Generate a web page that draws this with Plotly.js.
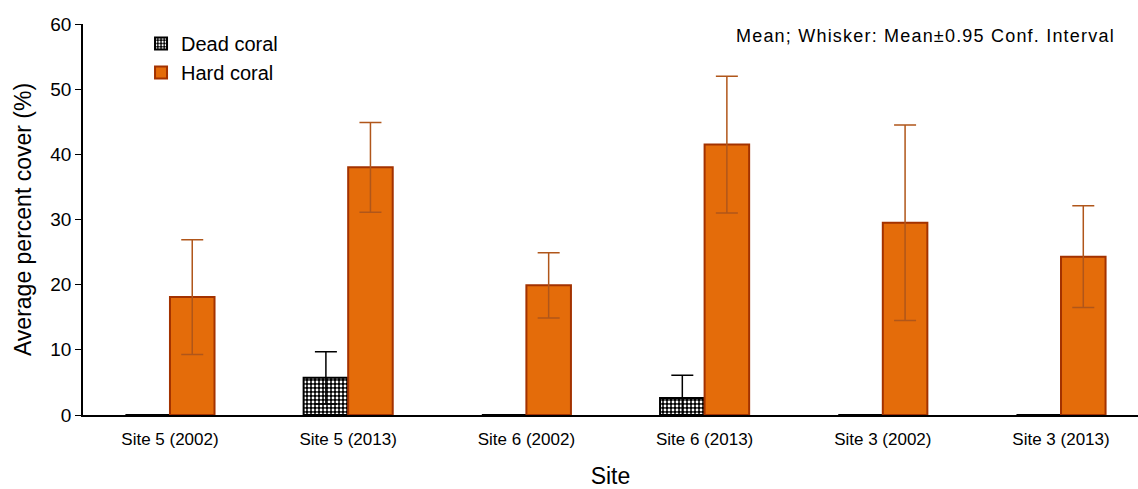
<!DOCTYPE html>
<html><head><meta charset="utf-8">
<script src="https://cdn.plot.ly/plotly-3.0.1.min.js"></script>
<style>
html,body{margin:0;padding:0;background:#fff}#chart{width:1138px;height:489px}
.annotation-text{letter-spacing:1.2px}
</style>
</head><body><div id="chart"></div>
<script>
const sites = ["Site 5 (2002)","Site 5 (2013)","Site 6 (2002)","Site 6 (2013)","Site 3 (2002)","Site 3 (2013)"];
const deadMean = [0, 5.7, 0, 2.6, 0, 0];
const deadCI = [0, 4.0, 0, 3.5, 0, 0];
const hardMean = [18.1, 38.0, 19.9, 41.5, 29.5, 24.3];
const hardCI = [8.8, 6.9, 5.0, 10.5, 15.0, 7.8];
const yTicks = [0,10,20,30,40,50,60];

const font = "Liberation Sans, Arial, sans-serif";
const traces = [
  {type:'bar', name:'Dead coral', x:sites, y:deadMean,
   marker:{color:'#000000', line:{color:'#000000', width:2},
     pattern:{shape:'.', fgcolor:'#ffffff', bgcolor:'#000000', size:4, solidity:0.4}},
   error_y:{type:'data', array:deadCI, visible:true, color:'#000000', thickness:1.5, width:11}},
  {type:'bar', name:'Hard coral', x:sites, y:hardMean,
   marker:{color:'#E46C0A', line:{color:'#A33200', width:2}},
   error_y:{type:'data', array:hardCI, visible:true, color:'#B0561A', thickness:1.5, width:11}}
];
const layout = {
  width:1138, height:489,
  margin:{l:83, r:0, t:24, b:74},
  paper_bgcolor:'#fff', plot_bgcolor:'#fff',
  font:{family:font, color:'#000'},
  barmode:'group', bargap:0.5, bargroupgap:0,
  showlegend:true,
  legend:{x:0.055, y:1.0, xanchor:'left', yanchor:'top', bgcolor:'rgba(0,0,0,0)',
    font:{size:20, family:font}, itemwidth:30, tracegroupgap:0},
  xaxis:{type:'category', range:[-0.488, 5.432], showline:true, linecolor:'#000', linewidth:1.5,
    ticks:'', tickfont:{size:17, family:font}, ticklabelstandoff:8, showgrid:false, zeroline:false,
    title:{text:'Site', font:{size:23, family:font}, standoff:26}},
  yaxis:{range:[0,60], tickvals:yTicks, showline:true, linecolor:'#000', linewidth:1.5,
    ticks:'outside', ticklen:6, tickcolor:'#000', tickfont:{size:19, family:font},
    showgrid:false, zeroline:false,
    title:{text:'Average percent cover (%)', font:{size:23, family:font}, standoff:12}},
  annotations:[{xref:'paper', yref:'paper', x:0.98, y:1.0, xanchor:'right', yanchor:'top',
    text:'Mean; Whisker: Mean±0.95 Conf. Interval', showarrow:false, font:{size:18, family:font}}]
};
Plotly.newPlot('chart', traces, layout, {displayModeBar:false});
</script></body></html>
